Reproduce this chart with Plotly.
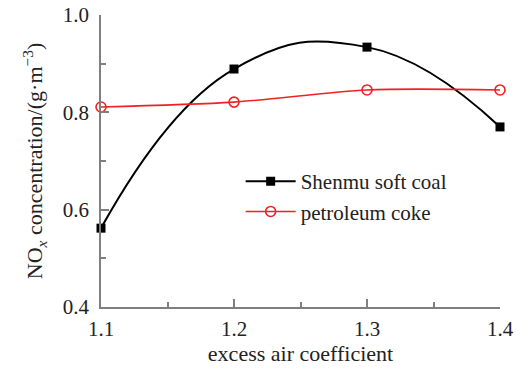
import plotly.graph_objects as go

excess_air = [1.1, 1.2, 1.3, 1.4]
shenmu_coal = [0.562, 0.889, 0.934, 0.770]
petroleum_coke = [0.811, 0.821, 0.846, 0.846]

FONT = "Times New Roman, Liberation Serif, serif"
AXIS_GRAY = "#7f7f7f"

fig = go.Figure()
fig.add_trace(go.Scatter(
    x=excess_air, y=shenmu_coal, name="Shenmu soft coal",
    mode="lines+markers",
    line=dict(color="black", width=2, shape="spline", smoothing=1.3),
    marker=dict(symbol="square", size=9, color="black"),
    cliponaxis=False,
))
fig.add_trace(go.Scatter(
    x=excess_air, y=petroleum_coke, name="petroleum coke",
    mode="lines+markers",
    line=dict(color="#ee2222", width=1.6, shape="spline", smoothing=0.8),
    marker=dict(symbol="circle-open", size=10, color="#ee2222",
                line=dict(width=1.6)),
    cliponaxis=False,
))

fig.update_layout(
    width=516, height=372,
    margin=dict(l=101, r=16, t=15, b=65, autoexpand=False),
    paper_bgcolor="white", plot_bgcolor="white",
    font=dict(family=FONT, size=21, color="#222222"),
    legend=dict(x=0.35, y=0.50, xanchor="left", yanchor="top",
                bgcolor="rgba(0,0,0,0)", font=dict(family=FONT, size=21),
                tracegroupgap=0, itemwidth=50),
    showlegend=True,
)
fig.update_xaxes(
    range=[1.1, 1.4], tickvals=[1.1, 1.2, 1.3, 1.4],
    ticktext=["1.1", "1.2", "1.3", "1.4"],
    tickfont=dict(family=FONT, size=21),
    ticklabelstandoff=2, automargin=False,
    showgrid=False, zeroline=False, showline=True,
    linecolor=AXIS_GRAY, linewidth=1.5,
    ticks="inside", ticklen=8, tickcolor=AXIS_GRAY, tickwidth=1.5,
    minor=dict(tickvals=[1.15, 1.25, 1.35], ticks="inside", ticklen=5,
               tickcolor=AXIS_GRAY, tickwidth=1.5),
    title=dict(text="excess air coefficient", font=dict(family=FONT, size=22),
               standoff=4),
)
fig.update_yaxes(
    range=[0.4, 1.0], tickvals=[0.4, 0.6, 0.8, 1.0],
    ticktext=["0.4", "0.6", "0.8", "1.0"],
    tickfont=dict(family=FONT, size=21),
    ticklabelstandoff=6, automargin=False,
    showgrid=False, zeroline=False, showline=True,
    linecolor=AXIS_GRAY, linewidth=1.5,
    ticks="inside", ticklen=8, tickcolor=AXIS_GRAY, tickwidth=1.5,
    minor=dict(tickvals=[0.5, 0.7, 0.9], ticks="inside", ticklen=5,
               tickcolor=AXIS_GRAY, tickwidth=1.5),
    title=dict(text="NO<sub><i>x</i></sub> concentration/(g·m<sup>−3</sup>)",
               font=dict(family=FONT, size=22), standoff=14),
)

fig.write_html("out.html")
